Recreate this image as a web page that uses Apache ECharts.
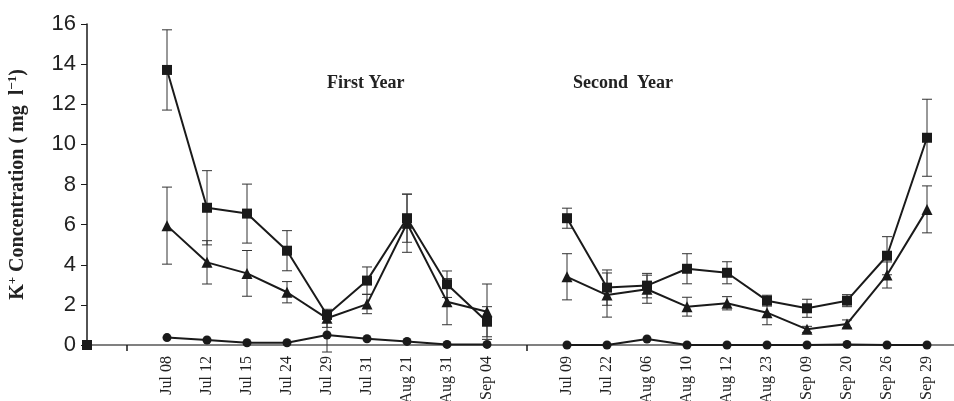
<!DOCTYPE html>
<html>
<head>
<meta charset="utf-8">
<script src="https://cdn.jsdelivr.net/npm/echarts@6/dist/echarts.min.js"></script>
<style>
  html, body { margin: 0; padding: 0; background: #fff; }
  #chart { width: 954px; height: 401px; }
</style>
</head>
<body>
<div id="chart"></div>
<script>
// category labels, slot 0 = origin point, slots 1 and 11 are empty gaps
const categories = ['', '', 'Jul 08', 'Jul 12', 'Jul 15', 'Jul 24', 'Jul 29', 'Jul 31', 'Aug 21', 'Aug 31', 'Sep 04',
  '', 'Jul 09', 'Jul 22', 'Aug 06', 'Aug 10', 'Aug 12', 'Aug 23', 'Sep 09', 'Sep 20', 'Sep 26', 'Sep 29'];
const yTicks = [0, 2, 4, 6, 8, 10, 12, 14, 16];

// squares
const squareMean = [0, null, 13.71, 6.84, 6.55, 4.70, 1.50, 3.21, 6.32, 3.03, 1.16,
  null, 6.32, 2.86, 2.96, 3.80, 3.60, 2.21, 1.83, 2.21, 4.45, 10.33];
const squareErr = [0, null, 2.0, 1.85, 1.47, 1.0, 0.2, 0.68, 1.2, 0.66, 0.75,
  null, 0.5, 0.88, 0.61, 0.75, 0.55, 0.27, 0.45, 0.3, 0.95, 1.92];

// triangles
const triangleMean = [null, null, 5.95, 4.12, 3.57, 2.63, 1.33, 2.04, 6.07, 2.16, 1.66,
  null, 3.40, 2.49, 2.78, 1.91, 2.08, 1.61, 0.78, 1.05, 3.49, 6.76];
const triangleErr = [null, null, 1.92, 1.08, 1.14, 0.53, 0.45, 0.48, 1.45, 1.15, 1.38,
  null, 1.15, 1.1, 0.7, 0.47, 0.33, 0.6, 0.15, 0.2, 0.65, 1.17];

// circles
const circleMean = [null, null, 0.37, 0.25, 0.11, 0.11, 0.5, 0.31, 0.18, 0.03, 0.03,
  null, 0, 0, 0.3, 0, 0, 0, 0, 0.03, 0, 0];
const circleErr = [null, null, 0, 0, 0, 0, 0.85, 0, 0, 0, 0,
  null, 0, 0, 0, 0, 0, 0, 0, 0, 0, 0];

const ink = '#1a1a1a';

// [x, y] pairs, x = slot index
function toPoints(values) {
  return values.map((v, i) => [i, v]);
}

// [x, low, high] for error bars
function toErrors(means, errs) {
  let out = [];
  means.forEach((m, i) => {
    if (m != null && errs[i]) out.push([i, m - errs[i], m + errs[i]]);
  });
  return out;
}

function errorBar(name, means, errs) {
  return {
    name: name,
    type: 'custom',
    z: 1,
    clip: false,
    silent: true,
    data: toErrors(means, errs),
    renderItem: function (params, api) {
      let lo = api.coord([api.value(0), api.value(1)]);
      let hi = api.coord([api.value(0), api.value(2)]);
      let w = 5;
      let style = { stroke: '#333', lineWidth: 1 };
      return {
        type: 'group',
        children: [
          { type: 'line', shape: { x1: hi[0], y1: hi[1], x2: lo[0], y2: lo[1] }, style: style },
          { type: 'line', shape: { x1: hi[0] - w, y1: hi[1], x2: hi[0] + w, y2: hi[1] }, style: style },
          { type: 'line', shape: { x1: lo[0] - w, y1: lo[1], x2: lo[0] + w, y2: lo[1] }, style: style }
        ]
      };
    }
  };
}

function lineSeries(name, values, symbol, size) {
  return {
    name: name,
    type: 'line',
    z: 3,
    data: toPoints(values),
    connectNulls: false,
    symbol: symbol,
    symbolSize: size,
    showSymbol: true,
    clip: false,
    lineStyle: { color: ink, width: 2 },
    itemStyle: { color: ink },
    emphasis: { disabled: true }
  };
}

const labelSlots = [];
categories.forEach((c, i) => { if (c) labelSlots.push(i); });

let chart = echarts.init(document.getElementById('chart'));
chart.setOption({
  animation: false,
  backgroundColor: '#fff',
  grid: { left: 87, right: 0, top: 24, bottom: 56, containLabel: false, outerBoundsMode: 'none' },
  xAxis: [
    {
      type: 'value',
      min: 0,
      max: 21.675,
      axisLine: { show: true, onZero: false, lineStyle: { color: ink, width: 2 } },
      axisTick: { show: true, customValues: [1, 11], length: 6, lineStyle: { color: ink, width: 1.5 } },
      axisLabel: {
        customValues: labelSlots,
        formatter: v => categories[Math.round(v)] || '',
        rotate: 90,
        margin: 11,
        fontFamily: 'Liberation Serif',
        fontSize: 16,
        color: '#222'
      },
      splitLine: { show: false }
    },
    {
      type: 'value',
      position: 'top',
      min: 0,
      max: 21.675,
      axisLine: { show: true, lineStyle: { color: '#808080', width: 2 } },
      axisTick: { show: false },
      axisLabel: { show: false },
      splitLine: { show: false }
    }
  ],
  yAxis: {
    type: 'value',
    min: 0,
    max: 16,
    interval: 2,
    axisLine: { show: true, lineStyle: { color: ink, width: 1.5 } },
    axisTick: { show: true, length: 6, lineStyle: { color: ink, width: 1 } },
    axisLabel: {
      formatter: v => yTicks.includes(v) ? String(v) : '',
      margin: 11,
      fontFamily: 'Liberation Sans',
      fontSize: 22,
      color: '#222'
    },
    splitLine: { show: false },
    name: '{b|K}{sup|+}{b| Concentration ( mg  l}{sup|−1}{b|)}',
    nameLocation: 'middle',
    nameRotate: 90,
    nameGap: 58,
    nameTextStyle: {
      rich: {
        b: { fontFamily: 'Liberation Serif', fontWeight: 'bold', fontSize: 20, color: '#222' },
        sup: { fontFamily: 'Liberation Serif', fontWeight: 'bold', fontSize: 13, color: '#222', verticalAlign: 'top', padding: [0, 0, 10, 0] }
      }
    }
  },
  graphic: [
    { type: 'text', left: 327, top: 74, style: { text: 'First Year', font: 'bold 18px "Liberation Serif"', fill: '#222' } },
    { type: 'text', left: 573, top: 74, style: { text: 'Second  Year', font: 'bold 18px "Liberation Serif"', fill: '#222' } }
  ],
  series: [
    errorBar('squareErr', squareMean, squareErr),
    errorBar('triangleErr', triangleMean, triangleErr),
    errorBar('circleErr', circleMean, circleErr),
    lineSeries('circle', circleMean, 'circle', 9),
    lineSeries('triangle', triangleMean, 'triangle', 11),
    lineSeries('square', squareMean, 'rect', 10)
  ]
});
</script>
</body>
</html>
